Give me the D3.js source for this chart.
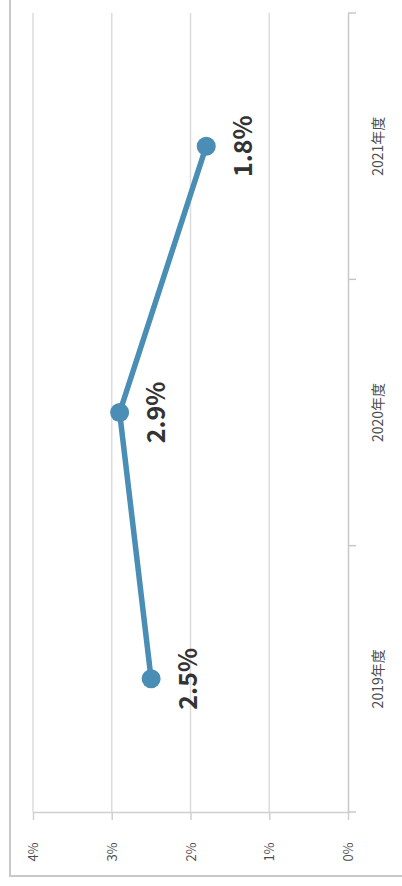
<!DOCTYPE html>
<html>
<head>
<meta charset="utf-8">
<script src="https://cdn.jsdelivr.net/npm/d3@7"></script>
<style>
  body { margin: 0; background: #fff; }
  text { font-family: "Noto Sans CJK JP", "DejaVu Sans", sans-serif; }
</style>
</head>
<body>
<div id="chart"></div>
<script>
// Chart data (rotated chart: value axis runs along the bottom)
const years = ["2019年度", "2020年度", "2021年度"];
const rates = [2.5, 2.9, 1.8];
const valueTicks = [0, 1, 2, 3, 4];

function drawChart() {
  const W = 402, H = 886;
  const svg = d3.select("#chart").append("svg")
      .attr("width", W).attr("height", H);

  // Outer frame
  svg.append("path")
      .attr("d", "M10,0 V876 H402")
      .attr("fill", "none")
      .attr("stroke", "#c8c8c8")
      .attr("stroke-width", 2);

  const x = d3.scaleLinear().domain([0, 4]).range([348, 33]);
  const y = d3.scaleBand().domain(years).range([812, 13]);

  // Gridlines
  svg.append("g").selectAll("line")
      .data(valueTicks.filter(d => d > 0))
      .enter().append("line")
      .attr("x1", d => x(d)).attr("x2", d => x(d))
      .attr("y1", 13).attr("y2", 812)
      .attr("stroke", "#dcdcdc").attr("stroke-width", 1.5);

  // Value axis along the bottom
  const xAxis = svg.append("g")
      .attr("transform", "translate(0,812)")
      .call(d3.axisBottom(x).tickValues(valueTicks).tickFormat(d => d + "%").tickSize(8).tickSizeOuter(0));
  xAxis.select(".domain").attr("stroke", "#d0d0d0").attr("stroke-width", 1.5);
  xAxis.selectAll(".tick line").attr("stroke", "#d0d0d0").attr("stroke-width", 1.5);
  xAxis.selectAll(".tick text")
      .attr("fill", "#4d4d4d")
      .attr("font-size", 13)
      .attr("transform", "translate(0,40) rotate(-90)")
      .attr("y", 0).attr("dy", "0.35em")
      .attr("text-anchor", "middle");

  // Category axis on the right
  const yAxis = svg.append("g")
      .attr("transform", "translate(348,0)")
      .call(d3.axisRight(y).tickSize(0));
  yAxis.select(".domain").attr("stroke", "#c8c8c8").attr("stroke-width", 1.5);
  yAxis.selectAll(".tick text")
      .attr("fill", "#4d4d4d")
      .attr("font-size", 14)
      .attr("transform", "translate(30,0) rotate(-90)")
      .attr("x", 0).attr("dy", "0.35em")
      .attr("text-anchor", "middle");

  // Category boundary ticks
  svg.append("g").selectAll("line")
      .data(years.map(d => y(d) + y.bandwidth()).concat([y(years[2])]))
      .enter().append("line")
      .attr("x1", 348).attr("x2", 356)
      .attr("y1", d => d).attr("y2", d => d)
      .attr("stroke", "#c8c8c8").attr("stroke-width", 1.5);

  const pts = years.map((c, i) => ({ c, v: rates[i] }));
  const cy = d => y(d.c) + y.bandwidth() / 2;

  // Line
  svg.append("path")
      .datum(pts)
      .attr("fill", "none")
      .attr("stroke", "#4a8db5")
      .attr("stroke-width", 5.5)
      .attr("d", d3.line().x(d => x(d.v)).y(cy));

  // Markers
  svg.append("g").selectAll("circle")
      .data(pts)
      .enter().append("circle")
      .attr("cx", d => x(d.v))
      .attr("cy", cy)
      .attr("r", 9.5)
      .attr("fill", "#4a8db5");

  // Data labels
  svg.append("g").selectAll("text")
      .data(pts)
      .enter().append("text")
      .attr("transform", d => `translate(${x(d.v) + 37},${cy(d)}) rotate(-90)`)
      .attr("text-anchor", "middle")
      .attr("dy", "0.35em")
      .attr("font-size", 25)
      .attr("font-weight", "bold")
      .attr("fill", "#333")
      .text(d => d.v.toFixed(1) + "%");
}

drawChart();
</script>
</body>
</html>
